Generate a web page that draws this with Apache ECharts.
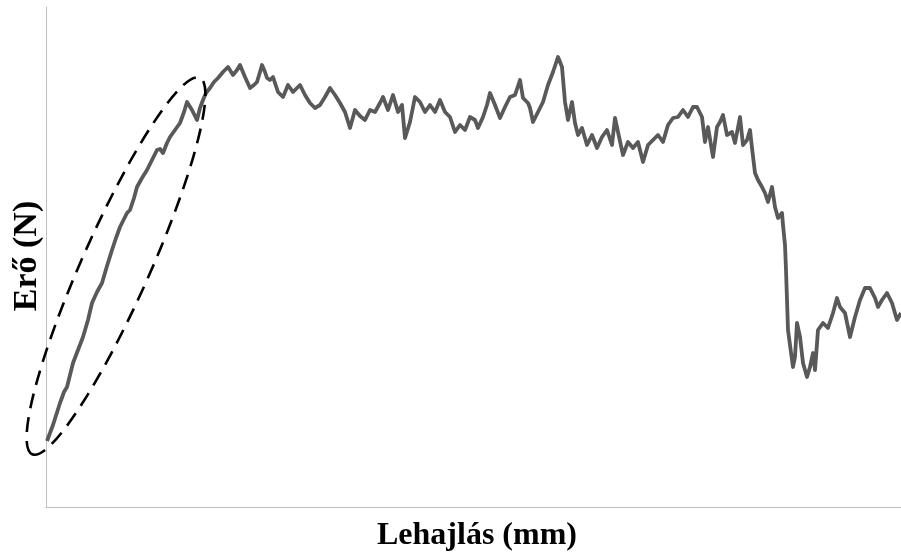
<!DOCTYPE html>
<html>
<head>
<meta charset="utf-8">
<script src="https://cdn.jsdelivr.net/npm/echarts@6/dist/echarts.min.js"></script>
<style>
  html, body { margin: 0; padding: 0; background: #fff; }
  #chart { width: 901px; height: 557px; }
</style>
</head>
<body>
<div id="chart"></div>
<script>
// deflection (arbitrary units)
const deflection = [
  1, 7, 14, 18, 21, 27, 32, 37, 42, 46, 51, 56, 61, 66, 70, 74, 81, 84, 88, 91,
  96, 101, 106, 111, 114, 117, 121, 124, 129, 134, 138, 141, 146, 151, 154, 157, 160, 164, 168, 172,
  177, 182, 187, 191, 194, 199, 204, 208, 211, 214, 216, 219, 221, 224, 227, 232, 237, 242, 247, 251,
  254, 259, 264, 269, 274, 279, 284, 289, 294, 299, 304, 309, 314, 319, 324, 329, 334, 337, 342, 347,
  352, 356, 359, 364, 369, 374, 379, 384, 389, 394, 399, 404, 409, 414, 419, 424, 429, 432, 437, 441,
  444, 449, 454, 459, 464, 469, 474, 477, 482, 484, 487, 492, 497, 502, 507, 512, 516, 519, 522, 526,
  529, 532, 536, 541, 546, 551, 556, 561, 566, 569, 572, 577, 582, 587, 592, 597, 602, 607, 612, 617,
  622, 627, 632, 637, 642, 647, 651, 656, 659, 662, 667, 671, 674, 677, 681, 686, 689, 694, 697, 701,
  704, 706, 709, 712, 716, 719, 722, 726, 729, 732, 736, 737, 739, 740, 741, 742, 744, 747, 749, 751,
  754, 757, 761, 764, 767, 769, 772, 777, 782, 787, 791, 794, 799, 804, 809, 814, 819, 824, 829, 832,
  836, 841, 846, 851, 855
];
// force (arbitrary units)
const force = [
  66, 82, 104, 115, 120, 144, 157, 170, 187, 204, 215, 224, 241, 257, 269, 280, 294, 297, 309, 320,
  329, 337, 347, 357, 358, 354, 364, 370, 377, 384, 395, 405, 397, 387, 399, 407, 414, 419, 425, 429,
  435, 440, 432, 437, 442, 430, 419, 422, 425, 435, 442, 435, 429, 427, 430, 415, 410, 422, 415, 419,
  422, 412, 404, 399, 402, 410, 419, 412, 404, 395, 379, 397, 391, 387, 397, 395, 404, 410, 397, 412,
  395, 402, 369, 385, 410, 405, 395, 402, 395, 407, 395, 390, 375, 382, 377, 390, 387, 379, 390, 402,
  414, 402, 389, 400, 410, 412, 427, 409, 404, 399, 385, 395, 405, 422, 435, 450, 440, 405, 387, 405,
  384, 372, 379, 362, 372, 359, 370, 377, 362, 389, 375, 352, 365, 359, 365, 345, 362, 367, 372, 365,
  382, 389, 390, 397, 390, 400, 400, 390, 365, 380, 350, 380, 385, 392, 372, 375, 364, 390, 362, 367,
  377, 359, 334, 327, 320, 314, 305, 320, 300, 289, 294, 282, 262, 237, 207, 177, 162, 140, 150, 184,
  170, 144, 130, 140, 154, 137, 177, 184, 179, 194, 209, 200, 194, 170, 190, 207, 219, 219, 209, 200,
  207, 214, 204, 187, 194
];

const xTitle = 'Lehajlás (mm)';
const yTitle = 'Erő (N)';

const chart = echarts.init(document.getElementById('chart'));

chart.setOption({
  animation: false,
  backgroundColor: '#fff',
  grid: { left: 46, right: 0, top: 7, bottom: 50 },
  xAxis: {
    type: 'value', min: 0, max: 855,
    axisLine: { show: true, lineStyle: { color: '#bfbfbf', width: 1 } },
    axisTick: { show: false }, axisLabel: { show: false }, splitLine: { show: false }
  },
  yAxis: {
    type: 'value', min: 0, max: 500,
    axisLine: { show: true, lineStyle: { color: '#bfbfbf', width: 1 } },
    axisTick: { show: false }, axisLabel: { show: false }, splitLine: { show: false }
  },
  series: [{
    type: 'line',
    data: deflection.map((x, i) => [x, force[i]]),
    showSymbol: false,
    lineStyle: { color: '#595959', width: 3.8, join: 'round' }
  }],
  graphic: [
    {
      // dashed ellipse around the initial (linear) part of the curve
      type: 'ellipse',
      x: 116, y: 266,
      rotation: 66 * Math.PI / 180,
      shape: { cx: 0, cy: 0, rx: 206, ry: 34 },
      style: { fill: 'none', stroke: '#000', lineWidth: 2.6, lineDash: [15, 9] },
      z: 10
    },
    {
      type: 'text',
      x: 27, y: 256,
      rotation: Math.PI / 2,
      style: {
        text: yTitle, fill: '#000',
        font: 'bold 34px "Liberation Serif", "Times New Roman", serif',
        align: 'center', verticalAlign: 'middle',
        textAlign: 'center', textVerticalAlign: 'middle'
      }
    },
    {
      type: 'text',
      x: 477, y: 536,
      style: {
        text: xTitle, fill: '#000',
        font: 'bold 32px "Liberation Serif", "Times New Roman", serif',
        align: 'center', verticalAlign: 'middle',
        textAlign: 'center', textVerticalAlign: 'middle'
      }
    }
  ]
});
</script>
</body>
</html>
